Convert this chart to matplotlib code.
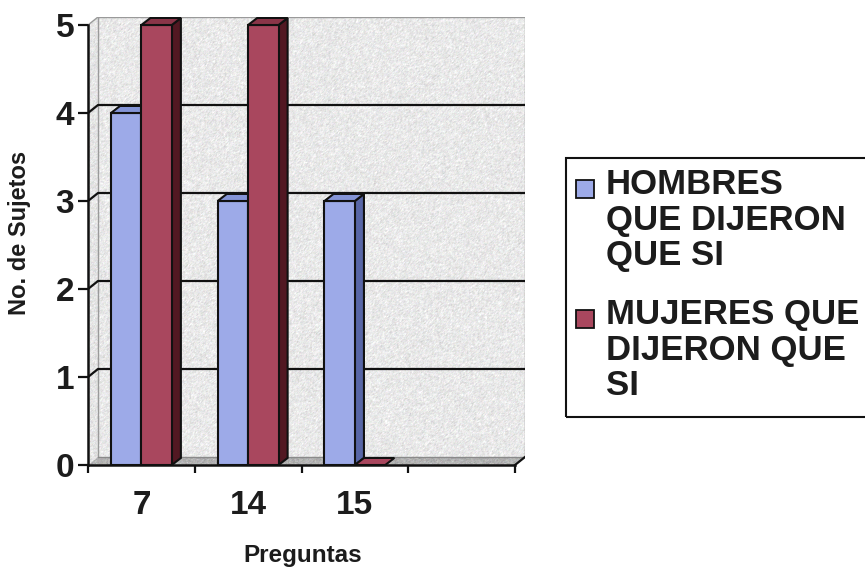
import numpy as np
import matplotlib
matplotlib.use("Agg")
import matplotlib.pyplot as plt
from matplotlib.patches import Polygon, Rectangle

plt.rcParams['font.family'] = ['Liberation Sans', 'DejaVu Sans']
plt.rcParams['font.weight'] = 'bold'

# ---- data -------------------------------------------------------------
categories = ["7", "14", "15", ""]
series_names = ["HOMBRES\nQUE DIJERON\nQUE SI", "MUJERES QUE\nDIJERON QUE\nSI"]
hombres = [4, 3, 3, np.nan]
mujeres = [5, 5, 0, np.nan]
y_ticks = [0, 1, 2, 3, 4, 5]
y_label = "No. de Sujetos"
x_label = "Preguntas"

# ---- style ------------------------------------------------------------
W, H = 865, 568
TXT = "#1c1c1c"
face_cols = [("#9daae8", "#8494d6", "#5866a6"),   # front, top, side
             ("#a9475e", "#8a3548", "#521822")]
BAR_W = 0.285
n_cat = len(categories)
ymax = max(y_ticks)

fig = plt.figure(figsize=(W / 100, H / 100), dpi=100)
fig.patch.set_facecolor("white")

# axes spans front plane plus the perspective depth
ax = fig.add_axes([88 / W, 1 - 465 / H, 437 / W, 448 / H])
DX = 10 / 106.75          # depth in category units
DY = 8 / 88.0             # depth in value units
BDX, BDY = 0.085, 0.08    # bar depth
ax.set_xlim(0, n_cat + DX)
ax.set_ylim(0, ymax + DY)
ax.patch.set_visible(False)

rng = np.random.default_rng(3)


def grain(h, w, base, amp):
    n = rng.normal(0, 1, (h, w))
    n = (n + np.roll(n, 1, 0) + np.roll(n, 1, 1)) / 3
    g = np.clip(base + amp * n, 0, 1)
    tint = rng.normal(0, 0.01, (h, w, 3))
    img = np.clip(g[..., None] + tint, 0, 1)
    return img


# back wall
ax.imshow(grain(440, 427, 0.915, 0.045), extent=[DX, n_cat + DX, DY, ymax + DY],
          aspect="auto", interpolation="nearest", zorder=0)
# left side wall
side = Polygon([(0, 0), (DX, DY), (DX, ymax + DY), (0, ymax)], closed=True,
               transform=ax.transData, facecolor="none", edgecolor="none")
ax.add_patch(side)
im = ax.imshow(grain(448, 12, 0.90, 0.045), extent=[0, DX, 0, ymax + DY],
               aspect="auto", interpolation="nearest", zorder=0)
im.set_clip_path(side)
# floor
floor = Polygon([(0, 0), (n_cat, 0), (n_cat + DX, DY), (DX, DY)], closed=True,
                transform=ax.transData, facecolor="none", edgecolor="none")
ax.add_patch(floor)
im = ax.imshow(grain(10, 437, 0.70, 0.05), extent=[0, n_cat + DX, 0, DY],
               aspect="auto", interpolation="nearest", zorder=0)
im.set_clip_path(floor)

ax.set_xlim(0, n_cat + DX)
ax.set_ylim(0, ymax + DY)

# wall outline
ax.plot([DX, DX, n_cat + DX, n_cat + DX], [DY, ymax + DY, ymax + DY, DY],
        color="#9a9a9a", lw=1.0, zorder=1)
ax.plot([0, DX], [ymax, ymax + DY], color="#9a9a9a", lw=1.0, zorder=1)
ax.plot([DX, n_cat + DX], [DY, DY], color="#8a8a8a", lw=1.0, zorder=1)

# gridlines on the side wall and back wall
for v in y_ticks[1:-1]:
    ax.plot([0, DX, n_cat + DX], [v, v + DY, v + DY], color="#111111",
            lw=1.6, zorder=1)

# bars with front, top and side faces
for s, vals in enumerate([hombres, mujeres]):
    front, top, sidec = face_cols[s]
    for i, v in enumerate(vals):
        if np.isnan(v):
            continue
        x0 = i + 0.5 - BAR_W + s * BAR_W
        x1 = x0 + BAR_W
        kw = dict(edgecolor="#111111", lw=1.5, joinstyle="miter", zorder=3 + s)
        if v > 0:
            ax.add_patch(Polygon([(x1, 0), (x1 + BDX, BDY), (x1 + BDX, v + BDY),
                                  (x1, v)], facecolor=sidec, **kw))
            ax.add_patch(Rectangle((x0, 0), BAR_W, v, facecolor=front, **kw))
            ax.add_patch(Polygon([(x0, v), (x1, v), (x1 + BDX, v + BDY),
                                  (x0 + BDX, v + BDY)], facecolor=top, **kw))
        else:
            ax.add_patch(Polygon([(x0, 0), (x1, 0), (x1 + BDX, BDY),
                                  (x0 + BDX, BDY)], facecolor=front, **kw))

# front axis lines
ax.plot([n_cat, n_cat + DX], [0, DY], color="#111111", lw=1.6, zorder=5)
for name in ["top", "right"]:
    ax.spines[name].set_visible(False)
for name in ["left", "bottom"]:
    ax.spines[name].set_color("#111111")
    ax.spines[name].set_linewidth(1.8)
    ax.spines[name].set_zorder(6)
ax.spines["left"].set_bounds(0, ymax)
ax.spines["bottom"].set_bounds(0, n_cat)

ax.set_yticks(y_ticks)
ax.set_yticklabels([str(t) for t in y_ticks])
ax.tick_params(axis="y", which="major", length=7, width=1.6, color="#111111",
               pad=3, labelsize=24, labelcolor=TXT)
ax.set_xticks(range(n_cat + 1))
ax.set_xticklabels([])
ax.set_xticks([i + 0.5 for i in range(n_cat)], minor=True)
ax.set_xticklabels(categories, minor=True)
ax.tick_params(axis="x", which="major", length=6, width=1.6, color="#111111")
ax.tick_params(axis="x", which="minor", length=0, pad=18, labelsize=24,
               labelcolor=TXT)

ax.set_ylabel(y_label, fontsize=17, fontweight="bold", color=TXT)
ax.yaxis.set_label_coords((31 - 88) / 437, (465 - 233) / 448)
ax.set_xlabel(x_label, fontsize=17.5, fontweight="bold", color=TXT)
ax.xaxis.set_label_coords((303 - 88) / 437, (465 - 544) / 448)

# legend
def fx(px):
    return px / W


def fy(py):
    return 1 - py / H


fig.add_artist(Rectangle((fx(566), fy(417)), fx(880) - fx(566), fy(158) - fy(417),
                         transform=fig.transFigure, fill=False,
                         edgecolor="#111111", lw=1.5))
legend_tops = [168, 298]
for s, name in enumerate(series_names):
    top = legend_tops[s]
    fig.add_artist(Rectangle((fx(576), fy(top + 30)), 18 / W, 18 / H,
                             transform=fig.transFigure,
                             facecolor=face_cols[s][0], edgecolor="#111111",
                             lw=1.3))
    fig.text(fx(606), fy(top), name, fontsize=25, fontweight="bold",
             color=TXT, va="top", ha="left", linespacing=1.1)

fig.savefig("out.png", dpi=100, facecolor="white")
